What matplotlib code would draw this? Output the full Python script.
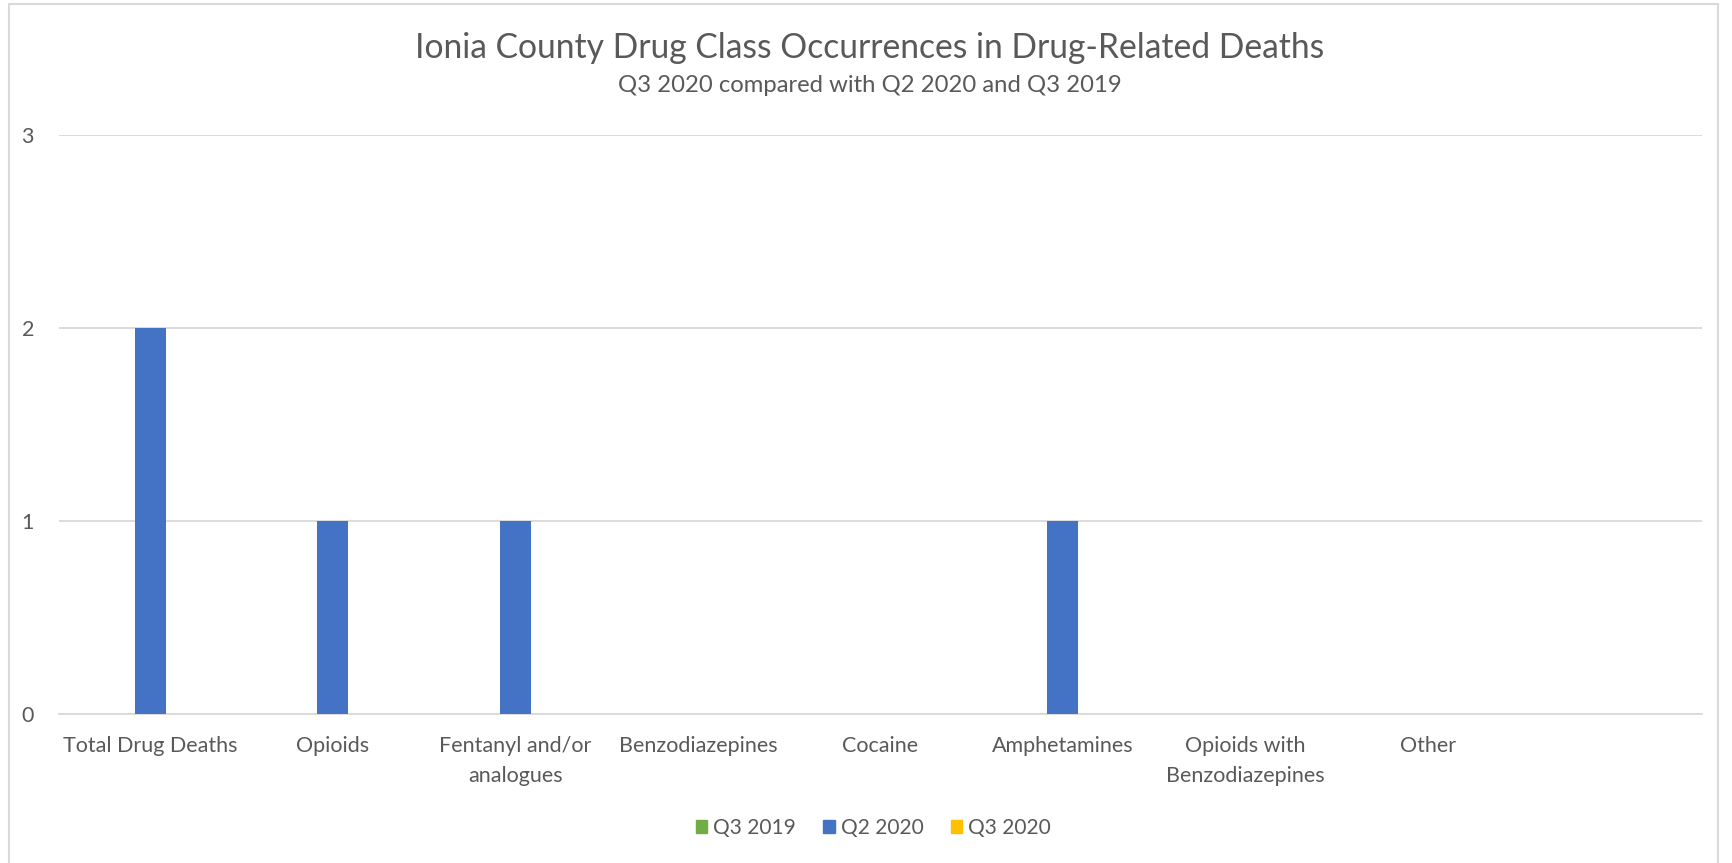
import numpy as np
import matplotlib.pyplot as plt
from matplotlib.patches import Patch, Rectangle

categories = ["Total Drug Deaths", "Opioids", "Fentanyl and/or\nanalogues", "Benzodiazepines",
              "Cocaine", "Amphetamines", "Opioids with\nBenzodiazepines", "Other", ""]
q3_2019 = [0, 0, 0, 0, 0, 0, 0, 0, 0]
q2_2020 = [2, 1, 1, 0, 0, 1, 0, 0, 0]
q3_2020 = [0, 0, 0, 0, 0, 0, 0, 0, 0]
series_names = ["Q3 2019", "Q2 2020", "Q3 2020"]
colors = ["#70AD47", "#4472C4", "#FFC000"]
yticks = [0, 1, 2, 3]

text_color = "#595959"
plt.rcParams['font.family'] = ['Lato', 'DejaVu Sans']

fig = plt.figure(figsize=(17.33, 8.63), dpi=100)
ax = fig.add_axes([0.034, 0.1727, 0.948, 0.6709])

x = np.arange(len(categories))
w = 0.17
for i, (vals, c) in enumerate(zip([q3_2019, q2_2020, q3_2020], colors)):
    ax.bar(x + (i - 1) * w, vals, width=w, color=c, zorder=3)

ax.set_xlim(-0.5, len(categories) - 0.5)
ax.set_ylim(0, 3)
ax.set_yticks(yticks)
ax.set_xticks(x)
ax.set_xticklabels(categories, linespacing=1.6)
ax.tick_params(axis='both', length=0, labelsize=15.5, colors=text_color)
ax.tick_params(axis='y', pad=18)
ax.tick_params(axis='x', pad=16)
ax.grid(axis='y', color="#D9D9D9", linewidth=1.3, zorder=0)
for s in ["top", "right", "left"]:
    ax.spines[s].set_visible(False)
ax.spines["bottom"].set_color("#D9D9D9")
ax.spines["bottom"].set_linewidth(1.3)

fig.text(0.502, 0.944, "Ionia County Drug Class Occurrences in Drug-Related Deaths",
         ha='center', va='center', fontsize=24.2, color=text_color)
fig.text(0.502, 0.901, "Q3 2020 compared with Q2 2020 and Q3 2019",
         ha='center', va='center', fontsize=17.2, color=text_color)

handles = [Patch(color=c, label=n) for c, n in zip(colors, series_names)]
fig.legend(handles=handles, loc='center', bbox_to_anchor=(0.504, 0.041), ncol=3,
           frameon=False, fontsize=15, handlelength=0.55, handleheight=0.55,
           handletextpad=0.3, columnspacing=1.3, labelcolor=text_color)

fig.patches.append(Rectangle((9 / 1733, -0.01), (1718 - 9) / 1733, 1 - 4 / 863 + 0.01,
                             transform=fig.transFigure, fill=False,
                             edgecolor="#D9D9D9", linewidth=1.5))

fig.savefig("out.png", dpi=100)
